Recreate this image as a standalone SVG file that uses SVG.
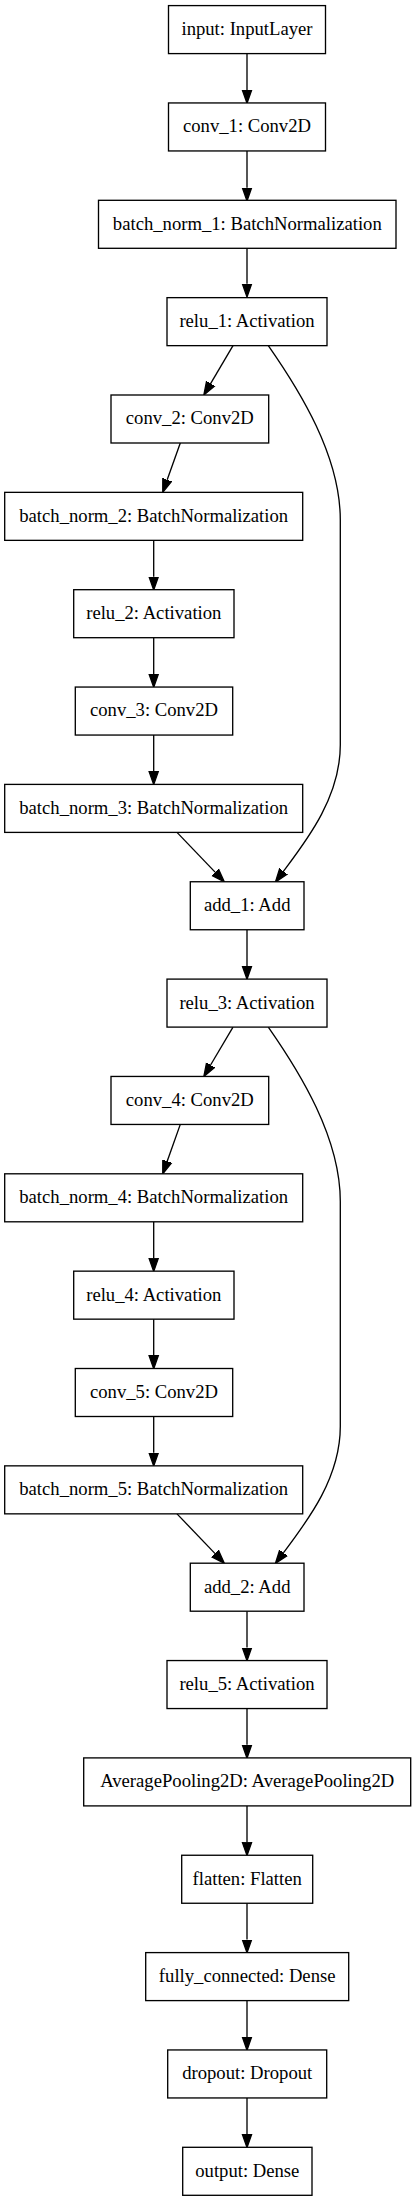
<svg xmlns="http://www.w3.org/2000/svg" width="416" height="2201" viewBox="0 0 416 2201">
<style>
.n rect{fill:#fff;stroke:#000;stroke-width:1.33}
.n text{font-family:"Liberation Serif","Times New Roman",serif;font-size:18.67px;text-anchor:middle;fill:#000}
.e path{fill:none;stroke:#000;stroke-width:1.33}
</style>
<defs>
<marker id="ah" markerUnits="userSpaceOnUse" markerWidth="16" markerHeight="12" viewBox="0 -6 16 12" refX="0" refY="0" orient="auto">
<path d="M0,-4.67 L13.3,0 L0,4.67 z" fill="#000" stroke="#000" stroke-width="1.33"/>
</marker>
</defs>
<rect width="416" height="2201" fill="#fff"/>
<g id="connectors" class="e">
<path d="M247,53.6 V90" marker-end="url(#ah)"/>
<path d="M247,150.95 V187.65" marker-end="url(#ah)"/>
<path d="M247,248.3 V283.7" marker-end="url(#ah)"/>
<path d="M233,345.6 L210.6,383.55" marker-end="url(#ah)"/>
<path d="M180.3,442.95 L167.2,479.8" marker-end="url(#ah)"/>
<path d="M153.7,540.35 V576.7" marker-end="url(#ah)"/>
<path d="M153.7,637.7 V674" marker-end="url(#ah)"/>
<path d="M153.7,735.05 V771.3" marker-end="url(#ah)"/>
<path d="M177,832.4 L215.1,872.15" marker-end="url(#ah)"/>
<path d="M268.3,345.6 C300,391 340.3,456 340.3,520 L340.3,745 C340.3,797 307,840 283.4,871.4" marker-end="url(#ah)"/>
<path d="M247,929.75 V966" marker-end="url(#ah)"/>
<path d="M233,1027.05 L210.6,1065" marker-end="url(#ah)"/>
<path d="M180.3,1124.4 L167.2,1161.25" marker-end="url(#ah)"/>
<path d="M153.7,1221.8 V1258.15" marker-end="url(#ah)"/>
<path d="M153.7,1319.15 V1355.45" marker-end="url(#ah)"/>
<path d="M153.7,1416.5 V1452.75" marker-end="url(#ah)"/>
<path d="M177,1513.85 L215.1,1553.6" marker-end="url(#ah)"/>
<path d="M268.3,1027.05 C300,1072.45 340.3,1137.45 340.3,1201.45 L340.3,1426.45 C340.3,1478.45 307,1521.45 283.4,1552.85" marker-end="url(#ah)"/>
<path d="M247,1611.2 V1647.5" marker-end="url(#ah)"/>
<path d="M247,1708.55 V1744.85" marker-end="url(#ah)"/>
<path d="M247,1805.9 V1842.2" marker-end="url(#ah)"/>
<path d="M247,1903.25 V1939.55" marker-end="url(#ah)"/>
<path d="M247,2000.6 V2036.9" marker-end="url(#ah)"/>
<path d="M247,2097.95 V2134.25" marker-end="url(#ah)"/>
</g>
<g id="input" class="n"><rect x="168.5" y="5.6" width="157" height="48"/><text x="247" y="35">input: InputLayer</text></g>
<g id="conv_1" class="n"><rect x="168.5" y="102.95" width="157" height="48"/><text x="247" y="132.35">conv_1: Conv2D</text></g>
<g id="batch_norm_1" class="n"><rect x="98.5" y="200.3" width="297.5" height="48"/><text x="247.3" y="229.7">batch_norm_1: BatchNormalization</text></g>
<g id="relu_1" class="n"><rect x="167" y="297.65" width="160" height="48"/><text x="247" y="327.05">relu_1: Activation</text></g>
<g id="conv_2" class="n"><rect x="111" y="395" width="157.7" height="48"/><text x="189.8" y="424.4">conv_2: Conv2D</text></g>
<g id="batch_norm_2" class="n"><rect x="4.7" y="492.35" width="298" height="48"/><text x="153.7" y="521.75">batch_norm_2: BatchNormalization</text></g>
<g id="relu_2" class="n"><rect x="73.7" y="589.7" width="160.3" height="48"/><text x="153.8" y="619.1">relu_2: Activation</text></g>
<g id="conv_3" class="n"><rect x="75.3" y="687.05" width="157.4" height="48"/><text x="154" y="716.45">conv_3: Conv2D</text></g>
<g id="batch_norm_3" class="n"><rect x="4.7" y="784.4" width="298" height="48"/><text x="153.7" y="813.8">batch_norm_3: BatchNormalization</text></g>
<g id="add_1" class="n"><rect x="190.3" y="881.75" width="113.7" height="48"/><text x="247.2" y="911.15">add_1: Add</text></g>
<g id="relu_3" class="n"><rect x="167" y="979.1" width="160" height="48"/><text x="247" y="1008.5">relu_3: Activation</text></g>
<g id="conv_4" class="n"><rect x="111" y="1076.45" width="157.7" height="48"/><text x="189.8" y="1105.85">conv_4: Conv2D</text></g>
<g id="batch_norm_4" class="n"><rect x="4.7" y="1173.8" width="298" height="48"/><text x="153.7" y="1203.2">batch_norm_4: BatchNormalization</text></g>
<g id="relu_4" class="n"><rect x="73.7" y="1271.15" width="160.3" height="48"/><text x="153.8" y="1300.55">relu_4: Activation</text></g>
<g id="conv_5" class="n"><rect x="75.3" y="1368.5" width="157.4" height="48"/><text x="154" y="1397.9">conv_5: Conv2D</text></g>
<g id="batch_norm_5" class="n"><rect x="4.7" y="1465.85" width="298" height="48"/><text x="153.7" y="1495.25">batch_norm_5: BatchNormalization</text></g>
<g id="add_2" class="n"><rect x="190.3" y="1563.2" width="113.7" height="48"/><text x="247.2" y="1592.6">add_2: Add</text></g>
<g id="relu_5" class="n"><rect x="167" y="1660.55" width="160" height="48"/><text x="247" y="1689.95">relu_5: Activation</text></g>
<g id="AveragePooling2D" class="n"><rect x="83.7" y="1757.9" width="327" height="48"/><text x="247.2" y="1787.3">AveragePooling2D: AveragePooling2D</text></g>
<g id="flatten" class="n"><rect x="181.7" y="1855.25" width="131" height="48"/><text x="247.2" y="1884.65">flatten: Flatten</text></g>
<g id="fully_connected" class="n"><rect x="145.7" y="1952.6" width="203" height="48"/><text x="247.2" y="1982">fully_connected: Dense</text></g>
<g id="dropout" class="n"><rect x="167.7" y="2049.95" width="159" height="48"/><text x="247.2" y="2079.35">dropout: Dropout</text></g>
<g id="output" class="n"><rect x="182.7" y="2147.3" width="129.3" height="48"/><text x="247.3" y="2176.7">output: Dense</text></g>
</svg>
